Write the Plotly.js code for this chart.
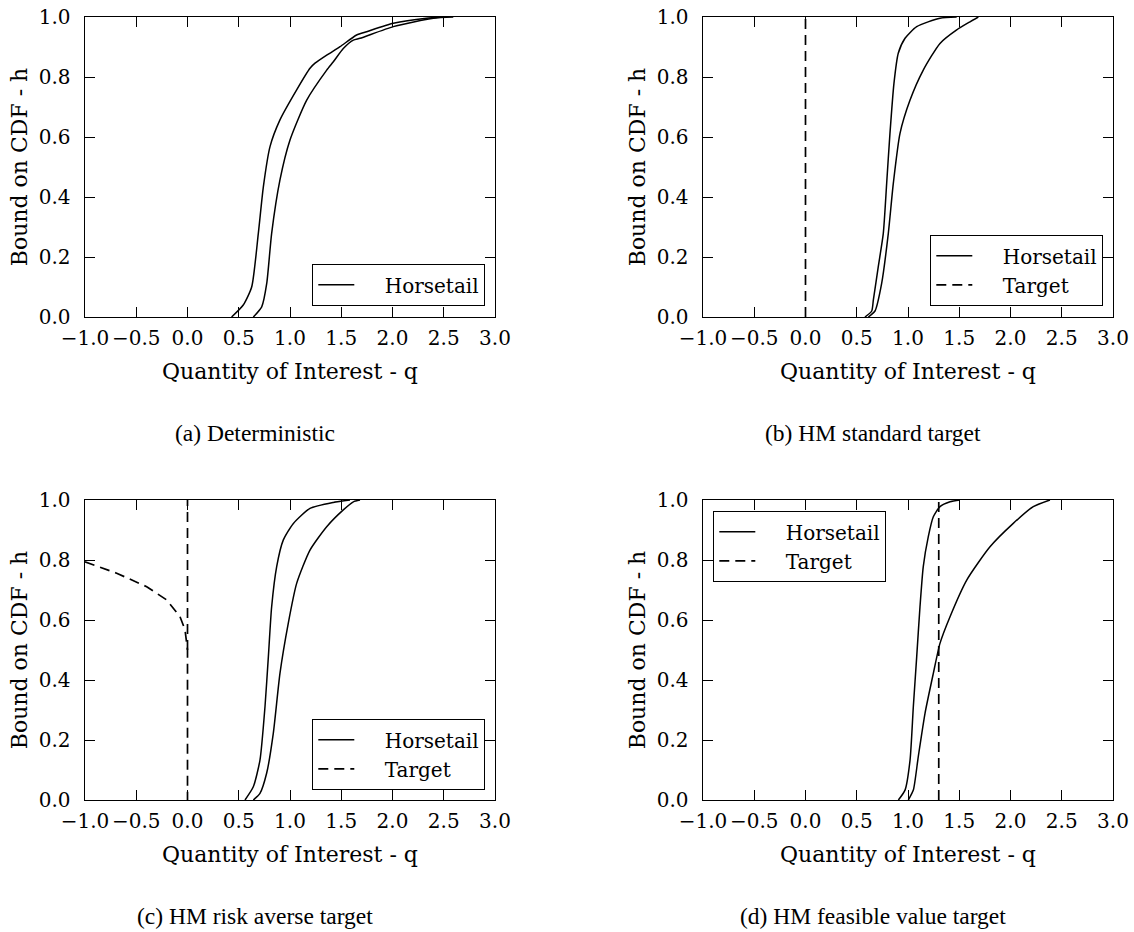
<!DOCTYPE html>
<html>
<head>
<meta charset="utf-8">
<script src="https://cdn.plot.ly/plotly-3.0.1.min.js"></script>
<style>html,body{margin:0;padding:0;background:#fff;}#chart{width:1134px;height:932px;}</style>
</head>
<body>
<div id="chart"></div>
<script>
// ---------- data ----------
// (a) Deterministic
const a_upper_q = [0.43, 0.544, 0.626, 0.691, 0.740, 0.805, 0.902, 1.065, 1.195, 1.244, 1.358, 1.488, 1.65, 1.748, 2.008, 2.33, 2.5];
const a_upper_h = [0, 0.04, 0.10, 0.279, 0.434, 0.568, 0.657, 0.757, 0.829, 0.846, 0.873, 0.901, 0.94, 0.951, 0.979, 0.996, 1.0];
const a_lower_q = [0.642, 0.724, 0.773, 0.821, 0.902, 1.0, 1.163, 1.358, 1.423, 1.52, 1.618, 1.683, 2.008, 2.398, 2.593];
const a_lower_h = [0, 0.034, 0.112, 0.279, 0.457, 0.59, 0.723, 0.823, 0.851, 0.895, 0.923, 0.929, 0.968, 0.996, 1.0];

// (b) HM standard target
const b_upper_q = [0.58, 0.646, 0.662, 0.71, 0.759, 0.792, 0.824, 0.863, 0.905, 0.971, 1.085, 1.312, 1.475];
const b_upper_h = [0, 0.02, 0.057, 0.168, 0.279, 0.446, 0.612, 0.779, 0.879, 0.929, 0.968, 0.996, 1.0];
const b_lower_q = [0.613, 0.678, 0.743, 0.808, 0.857, 0.922, 1.02, 1.149, 1.312, 1.475, 1.605, 1.686];
const b_lower_h = [0, 0.02, 0.112, 0.279, 0.446, 0.612, 0.723, 0.823, 0.912, 0.957, 0.984, 1.0];
const b_target_q = [0, 0];
const b_target_h = [0, 1];

// (c) HM risk averse target
const c_upper_q = [0.561, 0.642, 0.707, 0.756, 0.789, 0.821, 0.870, 0.935, 1.033, 1.195, 1.423, 1.585];
const c_upper_h = [0, 0.044, 0.133, 0.311, 0.478, 0.644, 0.778, 0.867, 0.922, 0.972, 0.992, 1.0];
const c_lower_q = [0.642, 0.707, 0.772, 0.837, 0.902, 0.983, 1.065, 1.195, 1.358, 1.52, 1.618, 1.683];
const c_lower_h = [0, 0.022, 0.089, 0.222, 0.422, 0.589, 0.722, 0.833, 0.911, 0.967, 0.994, 1.0];
const c_target_q = [-1.0, -0.691, -0.398, -0.203, -0.073, -0.024, -0.008, 0, 0, null, 0, 0];
const c_target_h = [0.794, 0.756, 0.711, 0.667, 0.611, 0.567, 0.522, 0.5, 0, null, 0.5, 1.0];

// (d) HM feasible value target
const d_upper_q = [0.906, 0.971, 1.02, 1.052, 1.085, 1.117, 1.149, 1.198, 1.247, 1.312, 1.41, 1.507];
const d_upper_h = [0, 0.033, 0.133, 0.311, 0.478, 0.644, 0.778, 0.878, 0.944, 0.978, 0.994, 1.0];
const d_lower_q = [1.003, 1.052, 1.1, 1.166, 1.247, 1.312, 1.41, 1.573, 1.80, 2.027, 2.222, 2.385];
const d_lower_h = [0, 0.033, 0.144, 0.289, 0.422, 0.522, 0.611, 0.733, 0.844, 0.922, 0.978, 1.0];
const d_target_q = [1.3, 1.3];
const d_target_h = [0, 1];

const captions = ['(a) Deterministic', '(b) HM standard target', '(c) HM risk averse target', '(d) HM feasible value target'];
const xTitle = 'Quantity of Interest - q';
const yTitle = 'Bound on CDF - h';
const seriesNames = ['Horsetail', 'Target'];
const xTicks = [-1.0, -0.5, 0.0, 0.5, 1.0, 1.5, 2.0, 2.5, 3.0];
const yTicks = [0.0, 0.2, 0.4, 0.6, 0.8, 1.0];

// ---------- layout helpers ----------
const W = 1134, H = 932;
const SERIF = 'DejaVu Serif, serif';
const CAPFONT = 'Liberation Serif, Times New Roman, serif';
const px = v => v / W;
const py = v => 1 - v / H;
const PAD = '\u00a0\u00a0\u00a0\u00a0';

const lineSolid = {color: '#000', width: 1.5, shape: 'spline', smoothing: 0.6};
const lineDash = {color: '#000', width: 1.7, dash: '10px,6px'};

function horse(q, h, xa, ya, lg, show) {
  return {x: q, y: h, xaxis: xa, yaxis: ya, type: 'scatter', mode: 'lines',
    name: PAD + seriesNames[0], legend: lg, showlegend: show, legendgroup: 'h' + lg,
    line: lineSolid, hoverinfo: 'skip'};
}
function target(q, h, xa, ya, lg) {
  return {x: q, y: h, xaxis: xa, yaxis: ya, type: 'scatter', mode: 'lines',
    name: PAD + seriesNames[1], legend: lg, showlegend: true, legendgroup: 't' + lg,
    line: lineDash, connectgaps: false, hoverinfo: 'skip'};
}

const traces = [
  horse(a_upper_q, a_upper_h, 'x', 'y', 'legend', true),
  horse(a_lower_q, a_lower_h, 'x', 'y', 'legend', false),
  horse(b_upper_q, b_upper_h, 'x2', 'y2', 'legend2', true),
  horse(b_lower_q, b_lower_h, 'x2', 'y2', 'legend2', false),
  target(b_target_q, b_target_h, 'x2', 'y2', 'legend2'),
  horse(c_upper_q, c_upper_h, 'x3', 'y3', 'legend3', true),
  horse(c_lower_q, c_lower_h, 'x3', 'y3', 'legend3', false),
  target(c_target_q, c_target_h, 'x3', 'y3', 'legend3'),
  horse(d_upper_q, d_upper_h, 'x4', 'y4', 'legend4', true),
  horse(d_lower_q, d_lower_h, 'x4', 'y4', 'legend4', false),
  target(d_target_q, d_target_h, 'x4', 'y4', 'legend4')
];

function xax(l, r, anchor) {
  return {domain: [px(l), px(r)], anchor: anchor, range: [-1, 3], tickvals: xTicks,
    ticktext: xTicks.map(v => (v < 0 ? '\u2212' : '') + Math.abs(v).toFixed(1)),
    tickangle: 0,
    showgrid: false, zeroline: false, showline: true, linecolor: '#000', linewidth: 1.4,
    mirror: 'ticks', ticks: 'inside', ticklen: 10, tickwidth: 1, tickcolor: '#000',
    tickfont: {family: SERIF, size: 20, color: '#000'}, ticklabelstandoff: 3,
    title: {text: xTitle, font: {family: SERIF, size: 22, color: '#000'}, standoff: 14},
    automargin: false, fixedrange: true};
}
function yax(t, b, anchor) {
  return {domain: [py(b), py(t)], anchor: anchor, range: [0, 1], tickvals: yTicks,
    ticktext: yTicks.map(v => v.toFixed(1)), tickangle: 0,
    showgrid: false, zeroline: false, showline: true, linecolor: '#000', linewidth: 1.4,
    mirror: 'ticks', ticks: 'inside', ticklen: 10, tickwidth: 1, tickcolor: '#000',
    tickfont: {family: SERIF, size: 20, color: '#000'}, ticklabelstandoff: 9,
    title: {text: yTitle, font: {family: SERIF, size: 22, color: '#000'}, standoff: 5},
    automargin: false, fixedrange: true};
}
function leg(x, y, xanchor, yanchor) {
  return {x: x, y: y, xanchor: xanchor, yanchor: yanchor, xref: 'paper', yref: 'paper',
    bgcolor: '#fff', bordercolor: '#000', borderwidth: 1.3, itemwidth: 36,
    font: {family: SERIF, size: 20, color: '#000'}, tracegroupgap: 0, traceorder: 'normal'};
}

const layout = {
  width: W, height: H, margin: {l: 0, r: 0, t: 0, b: 0},
  paper_bgcolor: '#fff', plot_bgcolor: '#fff', showlegend: true,
  xaxis: xax(85, 495, 'y'), yaxis: yax(17, 317, 'x'),
  xaxis2: xax(703, 1113, 'y2'), yaxis2: yax(17, 317, 'x2'),
  xaxis3: xax(85, 495, 'y3'), yaxis3: yax(500, 800, 'x3'),
  xaxis4: xax(703, 1113, 'y4'), yaxis4: yax(500, 800, 'x4'),
  legend: leg(px(485), py(306), 'right', 'bottom'),
  legend2: leg(px(1103), py(306), 'right', 'bottom'),
  legend3: leg(px(485), py(790), 'right', 'bottom'),
  legend4: leg(px(713), py(511), 'left', 'top'),
  annotations: [
    {text: captions[0], x: px(255), y: py(433), xref: 'paper', yref: 'paper', showarrow: false, xanchor: 'center', yanchor: 'middle', font: {family: CAPFONT, size: 23.5, color: '#000'}},
    {text: captions[1], x: px(873), y: py(433), xref: 'paper', yref: 'paper', showarrow: false, xanchor: 'center', yanchor: 'middle', font: {family: CAPFONT, size: 23.5, color: '#000'}},
    {text: captions[2], x: px(255), y: py(916), xref: 'paper', yref: 'paper', showarrow: false, xanchor: 'center', yanchor: 'middle', font: {family: CAPFONT, size: 23.5, color: '#000'}},
    {text: captions[3], x: px(873), y: py(916), xref: 'paper', yref: 'paper', showarrow: false, xanchor: 'center', yanchor: 'middle', font: {family: CAPFONT, size: 23.5, color: '#000'}}
  ]
};

Plotly.newPlot('chart', traces, layout, {staticPlot: true, displayModeBar: false});
</script>
</body>
</html>
